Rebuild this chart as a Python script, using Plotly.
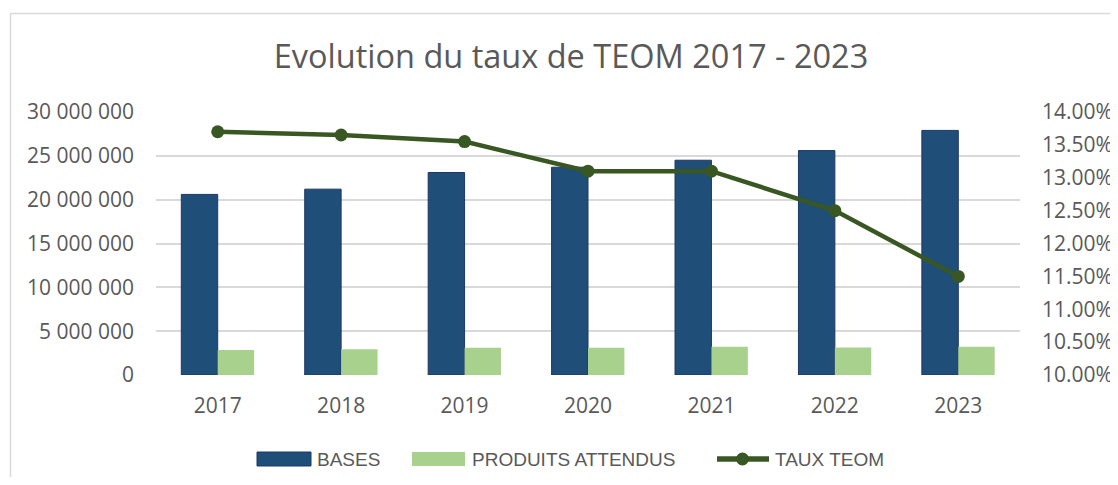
import plotly.graph_objects as go

years = ["2017", "2018", "2019", "2020", "2021", "2022", "2023"]
bases = [20600000, 21200000, 23100000, 23700000, 24500000, 25600000, 27900000]
produits = [2850000, 2930000, 3120000, 3120000, 3230000, 3150000, 3230000]
taux = [0.1370, 0.1365, 0.1355, 0.1310, 0.1310, 0.1250, 0.1150]

title_text = "Evolution du taux de TEOM 2017 - 2023"
TFONT = "Open Sans"
LFONT = "Liberation Sans"
GREY = "#595959"
C_BASES = "#1F4E79"
C_PROD = "#A9D18E"
C_TAUX = "#385723"

# The page body has an 8px margin: work in screen pixels, convert to figure pixels
O = 8
W, H = 1118 - O, 485 - 2 * O
L, R, T, B = 156 - O, 1020 - O, 112 - O, 375 - O


def px(x):
    return (x - O - L) / (R - L)


def py(y):
    return (B - (y - O)) / (B - T)


fig = go.Figure()
fig.add_trace(go.Bar(
    x=years, y=bases, name="BASES",
    marker=dict(color=C_BASES, line=dict(color="#1F3864", width=1)),
))
fig.add_trace(go.Bar(
    x=years, y=produits, name="PRODUITS ATTENDUS",
    marker=dict(color=C_PROD, line=dict(width=0)),
))
fig.add_trace(go.Scatter(
    x=years, y=taux, name="TAUX TEOM", yaxis="y2",
    mode="lines+markers",
    line=dict(color=C_TAUX, width=4.5),
    marker=dict(color=C_TAUX, size=13),
))

fig.update_layout(
    width=W, height=H,
    margin=dict(l=L, r=W - R, t=T, b=H - B, autoexpand=False),
    paper_bgcolor="white", plot_bgcolor="white",
    separators=". ",
    barmode="group", bargap=0.41, bargroupgap=0,
    showlegend=False,
    font=dict(family=TFONT, color=GREY, size=21),
    title=dict(text=title_text, x=(571 - O) / W, xref="container", xanchor="center",
               y=1 - (57 - O) / H, yref="container", yanchor="middle",
               font=dict(family=TFONT, size=32.5, color=GREY)),
    xaxis=dict(type="category", showgrid=False, showline=False, zeroline=False,
               ticks="outside", ticklen=12, tickcolor="rgba(0,0,0,0)",
               tickfont=dict(size=21, color=GREY), automargin=False),
    yaxis=dict(range=[0, 30000000], dtick=5000000, tickformat=",d",
               showgrid=True, gridcolor="#D9D9D9", gridwidth=1.5,
               zeroline=False, showline=False, automargin=False,
               ticklabelstandoff=21,
               tickfont=dict(size=21, color=GREY)),
    yaxis2=dict(range=[0.10, 0.14], dtick=0.005, tickformat=".2%",
                overlaying="y", side="right", showgrid=False, zeroline=False,
                showline=False, automargin=False, ticklabelstandoff=21,
                tickfont=dict(size=21, color=GREY)),
)

# outer chart border
fig.add_shape(type="rect", xref="paper", yref="paper",
              x0=px(10.5), x1=px(1300), y0=py(700), y1=py(13.5),
              line=dict(color="#D9D9D9", width=1.5), fillcolor="rgba(0,0,0,0)",
              layer="below")

# custom legend (wide swatches like the original)
ly = 459
fig.add_shape(type="rect", xref="paper", yref="paper",
              x0=px(257), x1=px(311), y0=py(466), y1=py(452),
              fillcolor=C_BASES, line=dict(color="#1F3864", width=1))
fig.add_shape(type="rect", xref="paper", yref="paper",
              x0=px(412), x1=px(465), y0=py(466), y1=py(452),
              fillcolor=C_PROD, line=dict(width=0))
fig.add_shape(type="line", xref="paper", yref="paper",
              x0=px(717), x1=px(769), y0=py(ly), y1=py(ly),
              line=dict(color=C_TAUX, width=5.5))
fig.add_shape(type="circle", xref="paper", yref="paper",
              x0=px(736), x1=px(749), y0=py(ly + 6.5), y1=py(ly - 6.5),
              fillcolor=C_TAUX, line=dict(color=C_TAUX, width=0))
for xpos, txt in [(315, "BASES"), (470, "PRODUITS ATTENDUS"), (773, "TAUX TEOM")]:
    fig.add_annotation(xref="paper", yref="paper", x=px(xpos), y=py(ly),
                       text=txt, showarrow=False, xanchor="left", yanchor="middle",
                       font=dict(family=LFONT, size=19, color=GREY))

fig.write_html("out.html")
